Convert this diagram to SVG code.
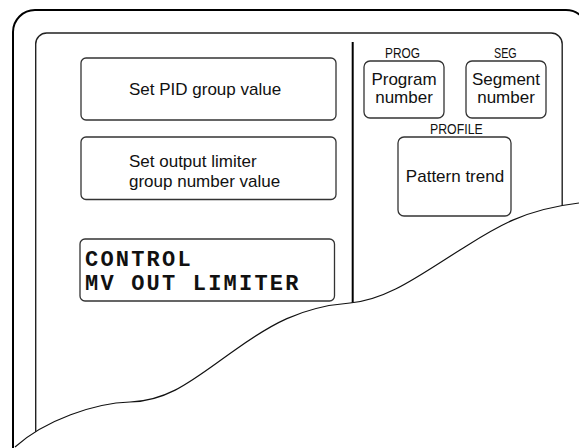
<svg xmlns="http://www.w3.org/2000/svg" width="579" height="448" viewBox="0 0 579 448">
<style>
.frame{fill:none;stroke:#000;stroke-width:2}
.inner{fill:none;stroke:#222;stroke-width:1.4}
.box{fill:#fff;stroke:#333;stroke-width:1.3}
.t{font-family:"Liberation Sans",Arial,sans-serif;font-size:17px;fill:#111}
.lbl{font-family:"Liberation Sans",Arial,sans-serif;font-size:14px;fill:#111}
.lcd{font-family:"Liberation Mono","Courier New",monospace;font-weight:bold;font-size:22px;letter-spacing:2.2px;fill:#111}
.wave{fill:none;stroke:#111;stroke-width:1.2}
</style>
<rect width="579" height="448" fill="#fff"/>
<g id="outer-frame">
<rect class="frame" x="13" y="10" width="575" height="460" rx="22" ry="22"/>
</g>
<g id="inner-frame">
<rect class="inner" x="35.7" y="33" width="526.5" height="430" rx="11" ry="11"/>
</g>
<g id="divider">
<line x1="352.7" y1="42" x2="352.7" y2="320" stroke="#000" stroke-width="2"/>
</g>
<g id="pid-box">
<rect class="box" x="81" y="58" width="255" height="62" rx="5"/>
<text class="t" x="129" y="95">Set PID group value</text>
</g>
<g id="limiter-box">
<rect class="box" x="81" y="137" width="255" height="62.5" rx="5"/>
<text class="t" x="129" y="166.5">Set output limiter</text>
<text class="t" x="129" y="186.5">group number value</text>
</g>
<g id="lcd-box">
<rect class="box" x="80" y="239" width="254.5" height="62" rx="5"/>
<text class="lcd" x="85" y="266">CONTROL</text>
<text class="lcd" x="85" y="290">MV OUT LIMITER</text>
</g>
<g id="prog-box">
<text class="lbl" x="385" y="58" textLength="35" lengthAdjust="spacingAndGlyphs">PROG</text>
<rect class="box" x="364" y="61" width="80" height="57" rx="6"/>
<text class="t" x="404" y="85" text-anchor="middle">Program</text>
<text class="t" x="404" y="103" text-anchor="middle">number</text>
</g>
<g id="seg-box">
<text class="lbl" x="494" y="58" textLength="22.7" lengthAdjust="spacingAndGlyphs">SEG</text>
<rect class="box" x="466" y="61" width="80" height="57" rx="6"/>
<text class="t" x="506" y="85" text-anchor="middle">Segment</text>
<text class="t" x="506" y="103" text-anchor="middle">number</text>
</g>
<g id="profile-box">
<text class="lbl" x="430" y="134" textLength="52.7" lengthAdjust="spacingAndGlyphs">PROFILE</text>
<rect class="box" x="398" y="137" width="113" height="79" rx="6"/>
<text class="t" x="455" y="182" text-anchor="middle">Pattern trend</text>
</g>
<g id="torn-edge">
<path fill="#fff" stroke="none" d="M 15,447 C 45,420 95,403 130,402 C 170,401 195,378 235,350 C 270,325 300,307 350,303 C 387,300 420,275 460,250 C 492,230 520,210 579,203 L 600,200 L 600,470 L 15,470 Z"/>
<path class="wave" d="M 15,447 C 45,420 95,403 130,402 C 170,401 195,378 235,350 C 270,325 300,307 350,303 C 387,300 420,275 460,250 C 492,230 520,210 579,203"/>
</g>
</svg>
